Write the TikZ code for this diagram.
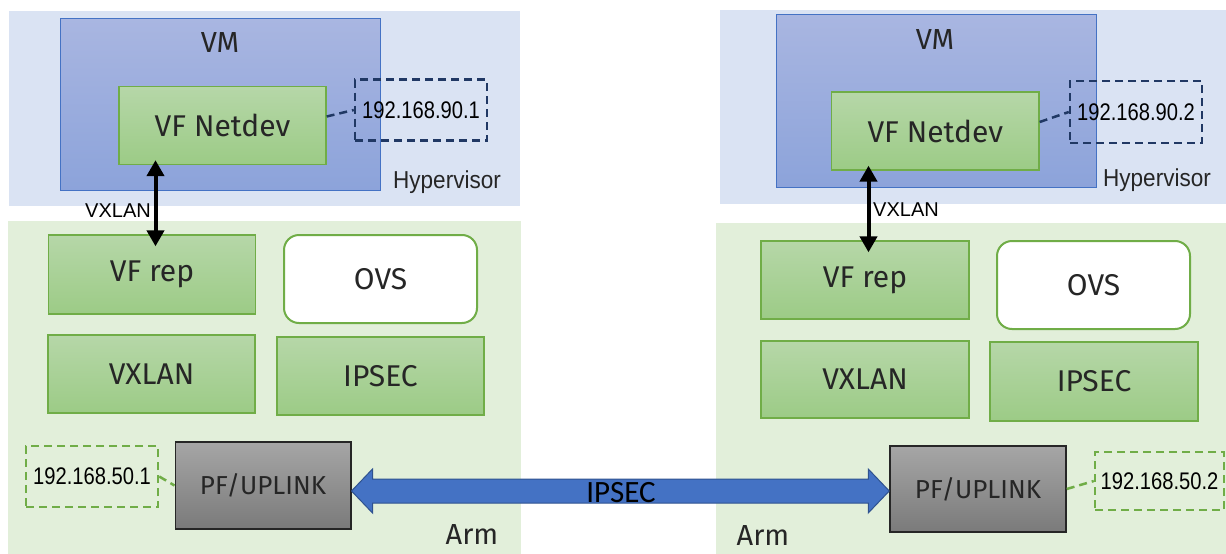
\documentclass[tikz,border=0pt]{standalone}
\usepackage{fontspec}
\setmainfont{Fira Sans}
\newfontfamily\ipfont[FakeStretch=0.84]{Liberation Sans}
\newfontfamily\tagfont[FakeStretch=0.92]{Liberation Sans}
\newfontfamily\hintfont{Liberation Sans}
\newfontfamily\linkfont{Carlito}
\usepackage{xcolor}
\usepackage{tikz}
\usetikzlibrary{positioning,calc,arrows.meta}
\definecolor{HypBlue}{HTML}{DAE3F3}
\definecolor{ArmGreen}{HTML}{E2EFDA}
\definecolor{VMTop}{HTML}{A9B6E1}
\definecolor{VMBot}{HTML}{8CA3DA}
\definecolor{VMEdge}{HTML}{4472C4}
\definecolor{BoxTop}{HTML}{B6D7A8}
\definecolor{BoxBot}{HTML}{9CCB86}
\definecolor{BoxEdge}{HTML}{70AD47}
\definecolor{IPNavy}{HTML}{203864}
\definecolor{LinkBlue}{HTML}{4472C4}
\definecolor{LinkEdge}{HTML}{2F528F}
\definecolor{PFTop}{HTML}{A6A6A6}
\definecolor{PFBot}{HTML}{7A7A7A}

\begin{document}
\begin{tikzpicture}[
        x=1pt, y=-1pt,
        % --- STYLE CHUNG ---
        common/.style={
            rectangle,
            inner sep=0pt,
            text=black!85
        },
        % Hộp VM (xanh dương)
        vm_box/.style={
            common,
            draw=VMEdge, line width=1pt,
            top color=VMTop, bottom color=VMBot
        },
        % Hộp chức năng (xanh lá)
        green_box/.style={
            common,
            draw=BoxEdge, line width=1.3pt,
            top color=BoxTop, bottom color=BoxBot,
            minimum width=207pt, minimum height=78pt,
            font=\fontsize{30}{36}\selectfont
        },
        % Hộp OVS (trắng, bo góc)
        ovs_box/.style={
            common,
            draw=BoxEdge, line width=2pt,
            fill=white, rounded corners=15pt,
            minimum width=193pt, minimum height=88pt,
            font=\fontsize{30}{36}\selectfont
        },
        % Hộp PF (xám)
        pf_box/.style={
            common,
            draw=black!85, line width=1.5pt,
            top color=PFTop, bottom color=PFBot,
            minimum width=176pt, minimum height=87pt,
            font=\fontsize{26}{30}\selectfont
        },
        % Hộp địa chỉ IP (nét đứt)
        ip_navy/.style={
            common,
            draw=IPNavy, line width=2.5pt,
            dash pattern=on 8pt off 5pt,
            minimum width=132pt, minimum height=61pt,
            text=black,
            font=\ipfont\fontsize{24}{28}\selectfont
        },
        ip_green/.style={ip_navy, draw=BoxEdge},
        link_navy/.style={draw=IPNavy, line width=2.5pt, dash pattern=on 8pt off 5pt},
        link_green/.style={link_navy, draw=BoxEdge},
        % Mũi tên VXLAN
        vx_arrow/.style={
            line width=4pt,
            {Triangle[width=17pt,length=16pt]}-{Triangle[width=17pt,length=16pt]},
            shorten <=-5pt, shorten >=-12pt
        },
        hint/.style={inner sep=0pt, font=\hintfont\fontsize{20}{24}\selectfont},
        tag/.style={inner sep=0pt, text=black!85, font=\tagfont\fontsize{24.5}{28}\selectfont},
        arm_tag/.style={inner sep=0pt, text=black!85, font=\fontsize{29}{34}\selectfont},
        big_arrow/.style={fill=LinkBlue, draw=LinkEdge, line width=1pt, line join=miter}
    ]
        \useasboundingbox (0,0) rectangle (1226,554);

        % --- NỀN ---
        \fill[HypBlue] (9,11) rectangle (520,206);
        \fill[ArmGreen] (8,221) rectangle (521,554);
        \fill[HypBlue] (719.5,10) rectangle (1226,204);
        \fill[ArmGreen] (716,223) rectangle (1226,554);

        % --- BÊN TRÁI ---
        \node[vm_box, minimum width=320pt, minimum height=172pt] (vmL) at (220,104) {};
        \node[common, font=\fontsize{29}{34}\selectfont] (vmLlabel) at (220,43) {VM};
        \node[green_box] (netL) at (222.5,125.5) {VF Netdev};
        \node[ip_navy] (ipL) at (421,110) {192.168.90.1};
        \node[tag] (hypL) at (447,182) {Hypervisor};

        \node[green_box, minimum height=79pt] (vfrepL) at (152,274.5) {VF rep};
        \node[ovs_box] (ovsL) at (380.5,279) {OVS};
        \node[green_box] (vxlanL) at (151.5,374) {VXLAN};
        \node[green_box] (ipsecL) at (380.5,376) {IPSEC};
        \node[ip_green] (ipLowL) at (92,476.5) {192.168.50.1};
        \node[pf_box, minimum width=175.5pt] (pfL) at (263,485.5) {PF/UPLINK};
        \node[arm_tag] (armL) at (472,535) {Arm};
        \node[hint] (vxL) at (118,211) {VXLAN};

        % --- BÊN PHẢI ---
        \node[vm_box, minimum width=319.5pt, minimum height=173pt] (vmR) at (936.25,100.5) {};
        \node[common, font=\fontsize{29}{34}\selectfont] (vmRlabel) at (935,40) {VM};
        \node[green_box, minimum width=207.5pt] (netR) at (935.25,131) {VF Netdev};
        \node[ip_navy, minimum height=62pt] (ipR) at (1136,112) {192.168.90.2};
        \node[tag] (hypR) at (1157,180) {Hypervisor};

        \node[green_box, minimum width=208pt] (vfrepR) at (865,280) {VF rep};
        \node[ovs_box] (ovsR) at (1093.5,285) {OVS};
        \node[green_box, minimum width=208pt, minimum height=77pt] (vxlanR) at (865,379.5) {VXLAN};
        \node[green_box, minimum width=208pt, minimum height=79pt] (ipsecR) at (1094,381.5) {IPSEC};
        \node[pf_box, minimum height=86pt] (pfR) at (978,489) {PF/UPLINK};
        \node[ip_green, minimum width=129pt, minimum height=58pt] (ipLowR) at (1159.5,481) {192.168.50.2};
        \node[arm_tag] (armR) at (763,536) {Arm};
        \node[hint] (vxR) at (906,210) {VXLAN};

        % --- ĐƯỜNG NỐI ---
        \draw[link_navy] ([yshift=9pt]netL.east) -- (ipL.west);
        \draw[link_navy] ([yshift=9pt]netR.east) -- (ipR.west);
        \draw[link_green] (ipLowL.east) -- (pfL.west);
        \draw[link_green] (pfR.east) -- (ipLowR.west);

        \draw[vx_arrow] ([xshift=3.5pt]vfrepL.north |- netL.south) -- ([xshift=3.5pt]vfrepL.north);
        \draw[vx_arrow] ([xshift=3.5pt]vfrepR.north |- netR.south) -- ([xshift=3.5pt]vfrepR.north);

        % --- MŨI TÊN IPSEC ---
        \coordinate (aL) at ($(pfL.east)+(0,5.5)$);
        \coordinate (aR) at ($(pfR.west)+(0,2)$);
        \draw[big_arrow] (aL) -- ++(21,-22) -- ++(0,10) -- ($(aR)+(-21,-12)$) -- ++(0,-10)
            -- (aR) -- ++(-21,22) -- ++(0,-10) -- ($(aL)+(21,12)$) -- ++(0,10) -- cycle;
        \node[inner sep=0pt, font=\linkfont\fontsize{31}{36}\selectfont] (ipsecLink) at (621,493) {IPSEC};

    \end{tikzpicture}
\end{document}
